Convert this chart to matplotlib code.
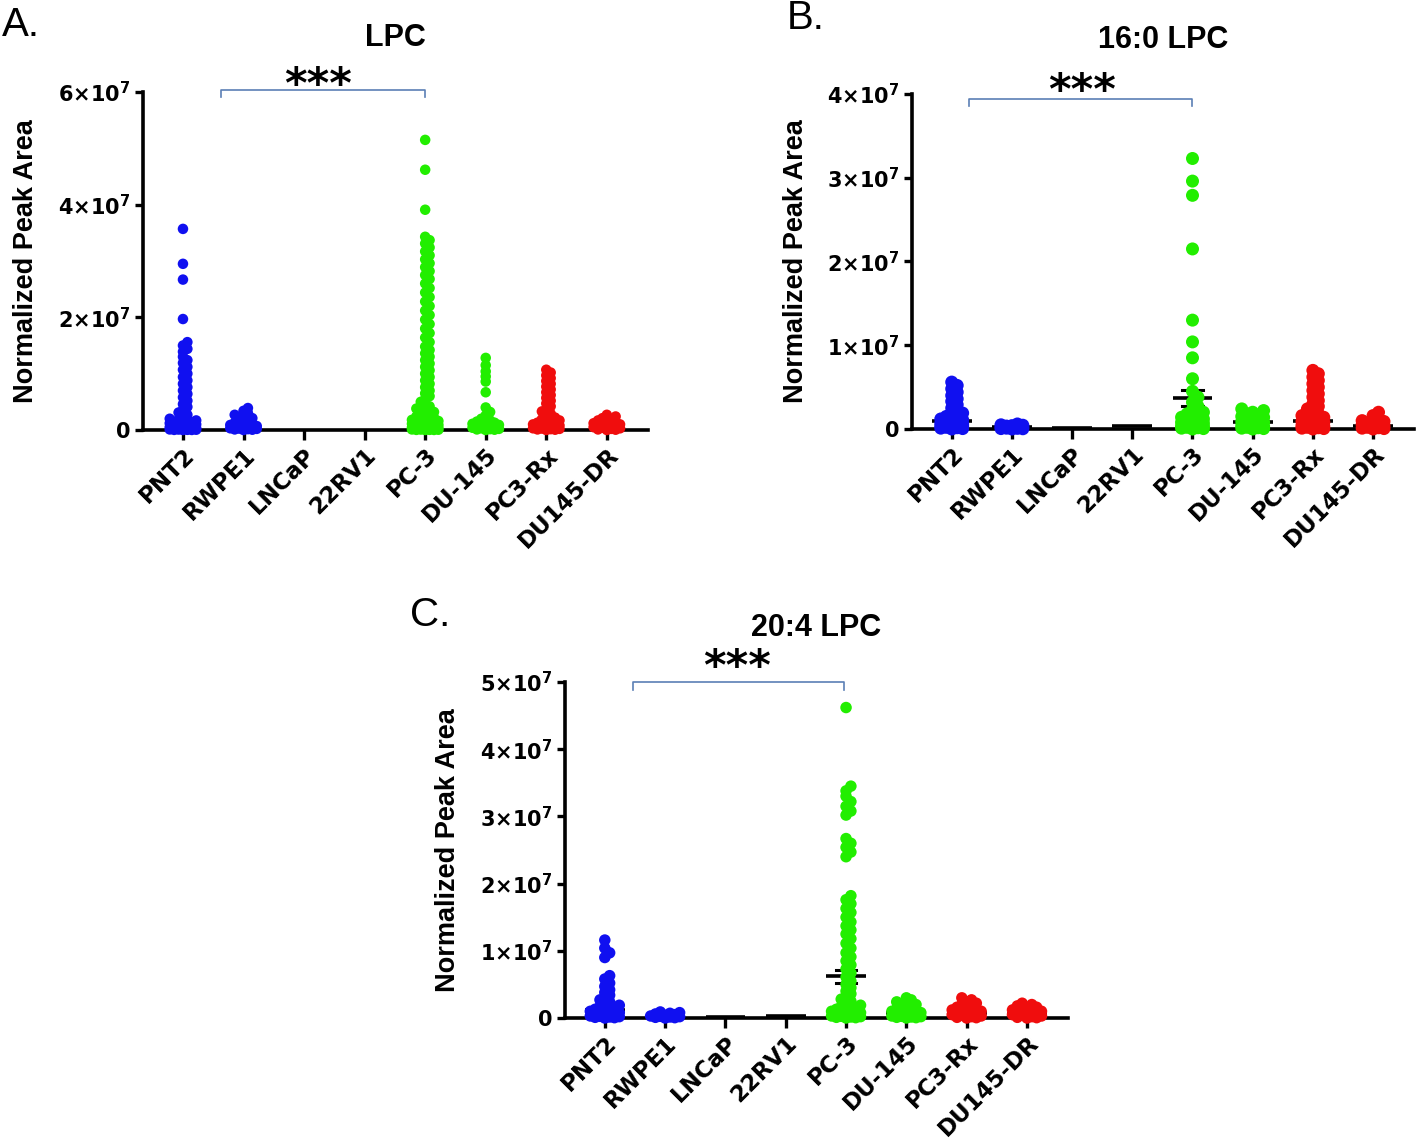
import numpy as np
import matplotlib
matplotlib.use('Agg')
import matplotlib.pyplot as plt

plt.rcParams['mathtext.fontset'] = 'dejavusans'

categories = ['PNT2', 'RWPE1', 'LNCaP', '22RV1', 'PC-3', 'DU-145', 'PC3-Rx', 'DU145-DR']
group_colors = ['#1010f0', '#1010f0', 'black', 'black', '#22ee00', '#22ee00', '#f00d0d', '#f00d0d']

# all values in units of 1e7 (normalized peak area)
# --- A: LPC ---
lpc_values = [
    [3.57, 2.95, 2.67, 1.97, 1.56, 1.50, 1.44, 1.39, 1.30, 1.24, 1.19, 1.12, 1.07, 1.00, 0.94,
     0.88, 0.82, 0.76, 0.70, 0.64, 0.58, 0.52, 0.46, 0.41, 0.36, 0.31, 0.27, 0.23, 0.20, 0.18,
     0.17, 0.16, 0.15, 0.14, 0.13, 0.12, 0.11, 0.10, 0.09, 0.08, 0.07, 0.06, 0.05, 0.04, 0.035,
     0.03, 0.025, 0.02, 0.015, 0.01, 0.008, 0.005, 0.003, 0.002, 0.001, 0.0],
    [0.39, 0.34, 0.30, 0.27, 0.24, 0.21, 0.18, 0.15, 0.13, 0.11, 0.10, 0.09, 0.08, 0.07, 0.06,
     0.05, 0.04, 0.035, 0.03, 0.025, 0.02, 0.015, 0.01, 0.005, 0.0],
    [],
    [],
    [5.15, 4.62, 3.91, 3.43, 3.37, 3.31, 3.24, 3.17, 3.10, 3.03, 2.96, 2.89, 2.82, 2.75, 2.68,
     2.60, 2.52, 2.44, 2.36, 2.28, 2.20, 2.12, 2.04, 1.96, 1.88, 1.80, 1.72, 1.64, 1.56, 1.48,
     1.42, 1.36, 1.30, 1.24, 1.18, 1.12, 1.06, 1.00, 0.94, 0.88, 0.82, 0.76, 0.70, 0.65, 0.60,
     0.55, 0.50, 0.46, 0.42, 0.38, 0.35, 0.32, 0.29, 0.26, 0.24, 0.22, 0.20, 0.18, 0.17, 0.16,
     0.15, 0.14, 0.13, 0.12, 0.11, 0.10, 0.09, 0.08, 0.07, 0.06, 0.05, 0.045, 0.04, 0.035, 0.03,
     0.025, 0.02, 0.015, 0.01, 0.008, 0.005, 0.003, 0.002, 0.001, 0.0],
    [1.28, 1.15, 1.04, 0.95, 0.86, 0.67, 0.40, 0.32, 0.26, 0.20, 0.17, 0.15, 0.13, 0.12, 0.11,
     0.10, 0.09, 0.08, 0.07, 0.06, 0.05, 0.04, 0.03, 0.02, 0.015, 0.01, 0.005, 0.0],
    [1.07, 1.02, 0.97, 0.92, 0.87, 0.82, 0.77, 0.72, 0.67, 0.62, 0.57, 0.52, 0.47, 0.42, 0.37,
     0.33, 0.29, 0.25, 0.22, 0.19, 0.17, 0.15, 0.13, 0.12, 0.11, 0.10, 0.09, 0.08, 0.07, 0.06,
     0.05, 0.04, 0.03, 0.025, 0.02, 0.015, 0.01, 0.005, 0.0],
    [0.27, 0.24, 0.21, 0.19, 0.17, 0.15, 0.13, 0.12, 0.11, 0.10, 0.09, 0.08, 0.07, 0.06, 0.05,
     0.04, 0.03, 0.02, 0.01, 0.005, 0.0],
]
lpc_means = [None] * 8
lpc_sems = [0] * 8

# --- B: 16:0 LPC ---
lpc160_values = [
    [0.56, 0.52, 0.48, 0.44, 0.40, 0.36, 0.33, 0.29, 0.25, 0.22, 0.19, 0.17, 0.15, 0.13, 0.12,
     0.11, 0.10, 0.09, 0.08, 0.07, 0.06, 0.05, 0.045, 0.04, 0.035, 0.03, 0.025, 0.02, 0.015,
     0.01, 0.005, 0.0],
    [0.06, 0.05, 0.045, 0.04, 0.035, 0.03, 0.025, 0.02, 0.015, 0.01, 0.008, 0.005, 0.003, 0.0],
    [],
    [],
    [3.23, 2.96, 2.79, 2.15, 1.30, 1.04, 0.85, 0.60, 0.45, 0.38, 0.32, 0.27, 0.23, 0.20, 0.18,
     0.16, 0.14, 0.12, 0.11, 0.10, 0.09, 0.08, 0.07, 0.06, 0.05, 0.04, 0.035, 0.03, 0.025, 0.02,
     0.015, 0.01, 0.005, 0.0],
    [0.24, 0.22, 0.20, 0.18, 0.16, 0.15, 0.14, 0.12, 0.11, 0.10, 0.09, 0.08, 0.07, 0.06, 0.05,
     0.04, 0.03, 0.025, 0.02, 0.015, 0.01, 0.005, 0.0],
    [0.70, 0.66, 0.62, 0.58, 0.54, 0.50, 0.46, 0.42, 0.38, 0.34, 0.30, 0.27, 0.24, 0.21, 0.18,
     0.16, 0.14, 0.12, 0.11, 0.10, 0.09, 0.08, 0.07, 0.06, 0.05, 0.04, 0.03, 0.025, 0.02, 0.015,
     0.01, 0.005, 0.0],
    [0.20, 0.16, 0.12, 0.10, 0.09, 0.08, 0.07, 0.06, 0.05, 0.04, 0.03, 0.02, 0.015, 0.01, 0.005,
     0.0],
]
lpc160_means = [0.10, 0.02, 0.01, 0.03, 0.37, 0.08, 0.10, 0.04]
lpc160_sems = [0, 0, 0, 0, 0.10, 0, 0, 0]

# --- C: 20:4 LPC ---
lpc204_values = [
    [1.16, 1.04, 0.97, 0.90, 0.63, 0.58, 0.52, 0.47, 0.42, 0.38, 0.34, 0.30, 0.27, 0.24, 0.21,
     0.19, 0.17, 0.15, 0.13, 0.12, 0.11, 0.10, 0.09, 0.08, 0.07, 0.06, 0.05, 0.04, 0.03, 0.025,
     0.02, 0.015, 0.01, 0.005, 0.0],
    [0.09, 0.08, 0.07, 0.06, 0.05, 0.04, 0.03, 0.025, 0.02, 0.015, 0.01, 0.005, 0.0],
    [],
    [],
    [4.62, 3.45, 3.38, 3.30, 3.22, 3.15, 3.08, 3.02, 2.67, 2.60, 2.54, 2.47, 2.40, 1.82, 1.76,
     1.70, 1.63, 1.57, 1.50, 1.43, 1.37, 1.31, 1.25, 1.18, 1.11, 1.04, 0.97, 0.91, 0.85, 0.79,
     0.73, 0.67, 0.61, 0.55, 0.50, 0.45, 0.40, 0.36, 0.32, 0.28, 0.25, 0.22, 0.19, 0.17, 0.15,
     0.13, 0.12, 0.11, 0.10, 0.09, 0.08, 0.07, 0.06, 0.05, 0.04, 0.03, 0.025, 0.02, 0.015, 0.01,
     0.005, 0.0],
    [0.30, 0.27, 0.24, 0.22, 0.20, 0.18, 0.16, 0.14, 0.12, 0.11, 0.10, 0.09, 0.08, 0.07, 0.06,
     0.05, 0.04, 0.03, 0.025, 0.02, 0.015, 0.01, 0.005, 0.0],
    [0.30, 0.27, 0.24, 0.22, 0.20, 0.18, 0.16, 0.14, 0.13, 0.12, 0.11, 0.10, 0.09, 0.08, 0.07,
     0.06, 0.05, 0.04, 0.03, 0.02, 0.01, 0.005, 0.0],
    [0.22, 0.20, 0.18, 0.16, 0.14, 0.12, 0.11, 0.10, 0.09, 0.08, 0.07, 0.06, 0.05, 0.04, 0.03,
     0.02, 0.01, 0.005, 0.0],
]
lpc204_means = [0.12, 0.02, 0.01, 0.03, 0.62, 0.08, 0.08, 0.06]
lpc204_sems = [0, 0, 0, 0, 0.10, 0, 0, 0]


def swarm_offsets(ax, vals, diam_px, max_px):
    # simple beeswarm in pixel space, returns x offsets in category units
    vals = np.asarray(vals, dtype=float)
    y_px = ax.transData.transform(np.column_stack([np.zeros(len(vals)), vals]))[:, 1]
    x0 = ax.transData.transform((0, 0))[0]
    x1 = ax.transData.transform((1, 0))[0]
    step = diam_px * 0.42
    thr = diam_px * 0.45
    cands = [0.0]
    k = 1
    while k * step <= max_px + 1e-6:
        cands += [k * step, -k * step]
        k += 1
    px, py = [], []
    out = np.zeros(len(vals))
    for i in np.argsort(y_px, kind='stable'):
        y = y_px[i]
        best, best_d = cands[0], -1.0
        for c in cands:
            d = np.min(np.hypot(np.array(px) - c, np.array(py) - y)) if px else np.inf
            if d >= thr:
                best = c
                break
            if d > best_d:
                best_d, best = d, c
        out[i] = best
        px.append(best)
        py.append(y)
    return out / (x1 - x0)


def draw_panel(fig, rect, values, means, sems, ymax, title, bracket, stars_pos, dot_px):
    ax = fig.add_axes(rect)
    ax.set_xlim(-0.66, 7.68)
    ax.set_ylim(0, ymax)
    for s in ['top', 'right']:
        ax.spines[s].set_visible(False)
    for s in ['left', 'bottom']:
        ax.spines[s].set_linewidth(2.6)
    ax.tick_params(axis='y', direction='out', length=6, width=2.4, pad=3)
    ax.tick_params(axis='x', direction='out', length=7.5, width=2.4, pad=2)

    yt = np.arange(0, ymax + 0.5, 2 if ymax == 6 else 1)
    ax.set_yticks(yt)
    ax.set_yticklabels(['0' if v == 0 else r'$\mathbf{%d{\times}10^{7}}$' % v for v in yt],
                       fontsize=15, fontweight='bold', family='DejaVu Sans')
    ax.set_xticks(range(len(categories)))
    ax.set_xticklabels(categories, rotation=45, ha='right', rotation_mode='anchor',
                       fontsize=16.5, fontweight='bold', family='DejaVu Sans')
    ax.set_ylabel('Normalized Peak Area', fontsize=19.5, fontweight='bold',
                  family='Liberation Sans', va='center')
    ax.yaxis.set_label_coords(-0.232, 0.5)

    diam_pt = dot_px * 72 / fig.dpi
    for i, vals in enumerate(values):
        if means[i] is not None:
            m = means[i]
            ax.plot([i - 0.33, i + 0.33], [m, m], color='black', lw=2.6, zorder=2.8,
                    solid_capstyle='butt', clip_on=False)
            if sems[i] > 0:
                ax.plot([i, i], [m - sems[i], m + sems[i]], color='black', lw=2.2, zorder=2.8)
                for e in (m - sems[i], m + sems[i]):
                    ax.plot([i - 0.17, i + 0.17], [e, e], color='black', lw=2.2, zorder=2.8)
        if len(vals) == 0:
            continue
        offs = swarm_offsets(ax, vals, dot_px, 15)
        ax.scatter(i + offs, vals, s=diam_pt ** 2, color=group_colors[i], edgecolors='none',
                   zorder=3, clip_on=False)

    # significance bracket
    bx0, bx1, by, tick = bracket
    ax.plot([bx0, bx0, bx1, bx1], [by - tick, by, by, by - tick], color='#5b7fb5', lw=1.2,
            clip_on=False)
    ax.text(stars_pos[0], stars_pos[1], '***', transform=ax.transAxes, ha='center',
            va='baseline', fontsize=31, fontweight='bold', family='DejaVu Sans')
    ax.text(0.5, 1.16, title, transform=ax.transAxes, ha='center', va='center',
            fontsize=22, fontweight='bold', family='Liberation Sans')
    return ax


W, H = 1418, 1140
fig = plt.figure(figsize=(W / 100, H / 100), dpi=100)


def rect_px(left, top, right, bottom):
    return [left / W, 1 - bottom / H, (right - left) / W, (bottom - top) / H]


draw_panel(fig, rect_px(143, 92, 648, 430), lpc_values, lpc_means, lpc_sems, 6, 'LPC',
           (0.63, 4.0, 6.03, 0.12), (0.347, 0.982), 10.5)
draw_panel(fig, rect_px(912, 94, 1414, 429), lpc160_values, lpc160_means, lpc160_sems, 4,
           '16:0 LPC', (0.28, 4.0, 3.94, 0.08), (0.339, 0.970), 13)
draw_panel(fig, rect_px(565, 682, 1068, 1018), lpc204_values, lpc204_means, lpc204_sems, 5,
           '20:4 LPC', (0.46, 3.97, 5.0, 0.12), (0.342, 1.006), 11.5)

fig.text(2 / W, 1 - 25 / H, 'A.', fontsize=29, family='Liberation Sans', va='center')
fig.text(787 / W, 1 - 18 / H, 'B.', fontsize=29, family='Liberation Sans', va='center')
fig.text(410 / W, 1 - 615 / H, 'C.', fontsize=29, family='Liberation Sans', va='center')

fig.savefig('out.png', dpi=100)
